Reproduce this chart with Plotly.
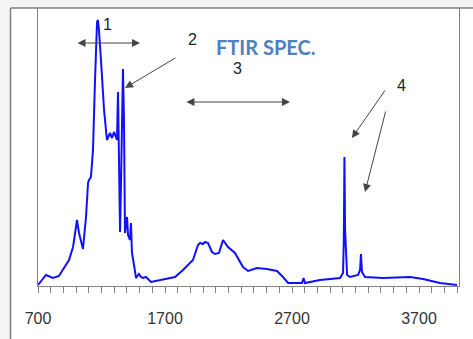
import plotly.graph_objects as go

# Spectrum data (wavenumber cm^-1, absorbance arbitrary units)
wavenumber = [700, 763, 818, 865, 944, 976, 1007, 1023, 1054, 1078, 1094, 1102, 1117, 1133,
              1149, 1165, 1172, 1180, 1196, 1220, 1243, 1267, 1283, 1298, 1314, 1322, 1330,
              1338, 1346, 1354, 1362, 1369, 1377, 1385, 1393, 1401, 1409, 1424, 1432, 1440,
              1456, 1472, 1495, 1511, 1527, 1550, 1590, 1661, 1779, 1842, 1920, 1960, 1976,
              1999, 2015, 2039, 2070, 2094, 2125, 2157, 2196, 2251, 2274, 2314, 2354, 2424,
              2503, 2582, 2629, 2669, 2779, 2791, 2802, 2920, 3078, 3102, 3108, 3113, 3118,
              3126, 3134, 3157, 3220, 3236, 3243, 3251, 3275, 3417, 3629, 3732, 3865, 3999]
absorbance = [1, 11, 8, 10, 26, 39, 66, 53, 37, 69, 103, 106, 109, 136,
              206, 264, 266, 256, 226, 176, 146, 153, 148, 154, 149, 146, 194,
              116, 54, 106, 186, 217, 166, 53, 61, 69, 51, 46, 63, 33,
              21, 8, 12, 9, 8, 9, 4, 6, 9, 16, 26, 41, 43,
              42, 44, 43, 34, 32, 33, 46, 39, 33, 28, 19, 15, 18,
              17, 15, 9, 3, 3, 8, 3, 6, 8, 13, 46, 129, 56,
              23, 11, 9, 11, 16, 32, 14, 9, 8, 9, 7, 3, 1]

tick_values = [700, 1700, 2700, 3700]
tick_labels = ["700", "1700", "2700", "3700"]

x_range = [700, 4015]
y_range = [0, 278]

fig = go.Figure()
fig.add_trace(go.Scatter(x=wavenumber, y=absorbance, mode="lines",
                         line=dict(color="#1010ff", width=2), hoverinfo="skip"))

# plot-area pixel geometry -> paper conversion
L, R, T, B = 38, 459, 8, 286
def px(xp):
    return (xp - L) / (R - L)
def py(yp):
    return (B - yp) / (B - T)

shapes = [
    dict(type="rect", xref="paper", yref="paper", x0=px(0), x1=px(10), y0=py(339), y1=py(0),
         fillcolor="#f4f4f4", line=dict(width=0), layer="below"),
    dict(type="rect", xref="paper", yref="paper", x0=px(0), x1=px(473), y0=py(8), y1=py(0),
         fillcolor="#f4f4f4", line=dict(width=0), layer="below"),
    dict(type="line", xref="paper", yref="paper", x0=px(10.5), x1=px(10.5), y0=py(339), y1=py(8),
         line=dict(color="#808080", width=1.5)),
    dict(type="line", xref="paper", yref="paper", x0=px(10.5), x1=px(473), y0=py(8), y1=py(8),
         line=dict(color="#808080", width=1.5)),
]

arrow_col = "#444444"
annotations = [
    # double arrow 1
    dict(x=1503, y=243, ax=999, ay=243, xref="x", yref="y", axref="x", ayref="y",
         showarrow=True, arrowhead=2, startarrowhead=2, arrowside="end+start",
         arrowsize=1.6, startarrowsize=1.6, arrowwidth=1, arrowcolor=arrow_col, text=""),
    # arrow 2
    dict(x=1385, y=198, ax=1794, ay=229, xref="x", yref="y", axref="x", ayref="y",
         showarrow=True, arrowhead=2, arrowsize=1.6, arrowwidth=1, arrowcolor=arrow_col, text=""),
    # double arrow 3
    dict(x=2684, y=184, ax=1857, ay=184, xref="x", yref="y", axref="x", ayref="y",
         showarrow=True, arrowhead=2, startarrowhead=2, arrowside="end+start",
         arrowsize=1.6, startarrowsize=1.6, arrowwidth=1, arrowcolor=arrow_col, text=""),
    # arrows 4
    dict(x=3172, y=148, ax=3440, ay=197, xref="x", yref="y", axref="x", ayref="y",
         showarrow=True, arrowhead=2, arrowsize=1.6, arrowwidth=1, arrowcolor=arrow_col, text=""),
    dict(x=3275, y=94, ax=3440, ay=176, xref="x", yref="y", axref="x", ayref="y",
         showarrow=True, arrowhead=2, arrowsize=1.6, arrowwidth=1, arrowcolor=arrow_col, text=""),
]
num_font = dict(family="Liberation Sans, Arial", size=16, color="#222222")
for txt, xv, yv in [("1", 1251, 262), ("2", 1913, 247), ("3", 2267, 218), ("4", 3566, 201)]:
    annotations.append(dict(x=xv, y=yv, xref="x", yref="y", text=txt, showarrow=False,
                            font=num_font))
annotations.append(dict(x=2495, y=239, xref="x", yref="y", text="<b>FTIR SPEC.</b>",
                        showarrow=False,
                        font=dict(family="Lato, Open Sans", size=20, color="#4f81bd")))

fig.update_layout(
    width=473, height=339,
    margin=dict(l=L, r=473 - R, t=T, b=339 - B, pad=0),
    paper_bgcolor="white", plot_bgcolor="white",
    showlegend=False,
    shapes=shapes, annotations=annotations,
    xaxis=dict(range=x_range, tickvals=tick_values, ticktext=tick_labels,
               showgrid=False, zeroline=False, showline=True, linecolor="#808080", linewidth=1,
               ticks="outside", ticklen=6, tickcolor="#808080", ticklabelstandoff=12,
               minor=dict(dtick=100, tick0=700, ticks="outside", ticklen=6, tickcolor="#808080",
                          showgrid=False),
               tickfont=dict(family="Liberation Sans, Arial", size=16, color="#333333")),
    yaxis=dict(range=y_range, showgrid=False, zeroline=False, showticklabels=False,
               showline=True, linecolor="#808080", linewidth=1, mirror=True, ticks=""),
)

fig.write_html("out.html", config={"displayModeBar": False},
               post_script="document.body.style.margin='0';")
